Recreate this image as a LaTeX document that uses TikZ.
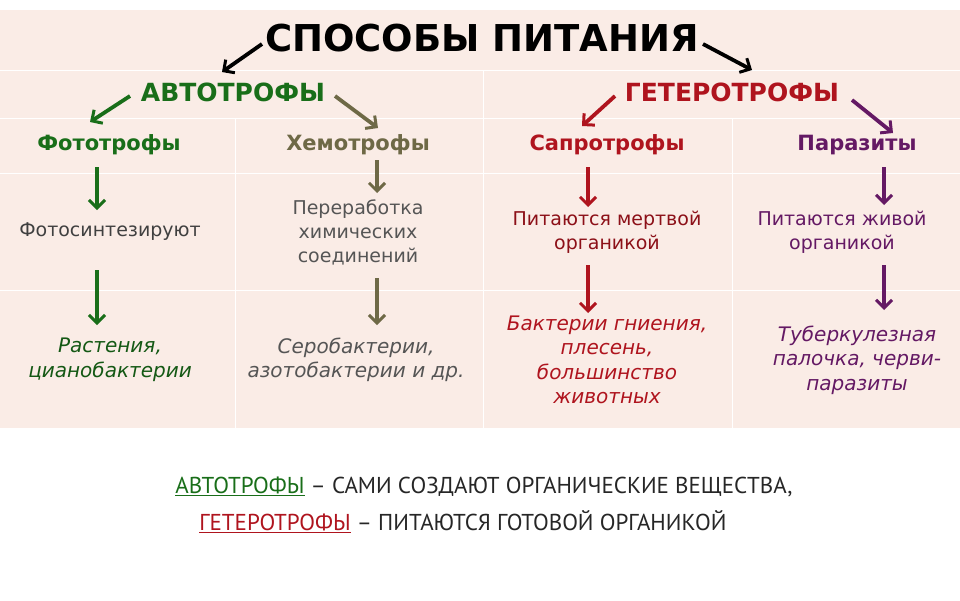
\documentclass[tikz,border=0pt]{standalone}
\usepackage{fontspec}
\setmainfont{DejaVu Sans}
\newfontfamily\ptsans{PT Sans}
\usetikzlibrary{arrows.meta}
\definecolor{bg}{RGB}{250,236,230}
\definecolor{cgreen}{RGB}{25,110,25}
\definecolor{colive}{RGB}{110,105,70}
\definecolor{cred}{RGB}{175,20,30}
\definecolor{cpurp}{RGB}{100,25,100}
\definecolor{cgray}{RGB}{85,85,85}
\tikzset{
 arr/.style={line width=3.8pt,-{Straight Barb[length=8pt,width=16pt,line width=3pt]}},
 lvl1/.style={font=\bfseries\fontsize{25}{27}\selectfont},
 lvl2/.style={font=\bfseries\fontsize{21}{23}\selectfont},
 body/.style={font=\fontsize{19}{24}\selectfont,align=center,text=cgray},
 ital/.style={font=\itshape\fontsize{20}{24.5}\selectfont,align=center},
}
\begin{document}
\begin{tikzpicture}[x=1pt,y=-1pt]
\useasboundingbox (0,0) rectangle (960,600);
\fill[bg] (0,10) rectangle (960,428);
\foreach \y in {70,118,173,290} \draw[white,line width=1pt] (0,\y)--(960,\y);
\foreach \x in {235,732} \draw[white,line width=1pt] (\x,118)--(\x,428);
\draw[white,line width=1pt] (483,70)--(483,428);
\node[font=\bfseries\fontsize{37}{39}\selectfont] (t) at (482,38) {СПОСОБЫ ПИТАНИЯ};
\node[lvl1,text=cgreen] (a) at (233,92) {АВТОТРОФЫ};
\node[lvl1,text=cred] (h) at (732,92) {ГЕТЕРОТРОФЫ};
\coordinate (t1) at (262,44); \coordinate (t1e) at (222,72);
\coordinate (t2) at (703,44); \coordinate (t2e) at (752,70);
\draw[arr] (t1)--(t1e); \draw[arr] (t2)--(t2e);
\node[lvl2,text=cgreen] (f) at (109,145) {Фототрофы};
\node[lvl2,text=colive] (c) at (358,145) {Хемотрофы};
\node[lvl2,text=cred] (s) at (607,145) {Сапротрофы};
\node[lvl2,text=cpurp] (p) at (857,145) {Паразиты};
\draw[arr,cgreen] (130,96)--(90,122);
\draw[arr,colive] (335,96)--(378,128);
\draw[arr,cred] (615,96)--(582,126);
\draw[arr,cpurp] (852,100)--(893,133);
\node[body,text=black!75] (f2) at (110,232) {Фотосинтезируют};
\node[body] (c2) at (358,232) {Переработка\\химических\\соединений};
\node[body,text=cred!80!black] (s2) at (607,232) {Питаются мертвой\\органикой};
\node[body,text=cpurp] (p2) at (842,232) {Питаются живой\\органикой};
\node[ital,text=cgreen!80!black] (f3) at (110,360) {Растения,\\цианобактерии};
\node[ital,text=cgray] (c3) at (356,360) {Серобактерии,\\азотобактерии и др.};
\node[ital,text=cred] (s3) at (607,360) {Бактерии гниения,\\плесень,\\большинство\\животных};
\node[ital,text=cpurp] (p3) at (857,360) {Туберкулезная\\палочка, черви-\\паразиты};
\draw[arr,cgreen] (97,167)--(97,210);
\draw[arr,colive] (377,160)--(377,193);
\draw[arr,cred] (588,167)--(588,207);
\draw[arr,cpurp] (884,167)--(884,205);
\draw[arr,cgreen] (97,270)--(97,325);
\draw[arr,colive] (377,278)--(377,325);
\draw[arr,cred] (588,265)--(588,313);
\draw[arr,cpurp] (884,265)--(884,310);
\node[font=\ptsans\fontsize{23}{25}\selectfont,text=black!85] (b1) at (484,487) {\textcolor{cgreen}{\underline{АВТОТРОФЫ}} – САМИ СОЗДАЮТ ОРГАНИЧЕСКИЕ ВЕЩЕСТВА,};
\node[font=\ptsans\fontsize{23}{25}\selectfont,text=black!85] (b2) at (463,522) {\textcolor{cred}{\underline{ГЕТЕРОТРОФЫ}} – ПИТАЮТСЯ ГОТОВОЙ ОРГАНИКОЙ};
\end{tikzpicture}
\end{document}
